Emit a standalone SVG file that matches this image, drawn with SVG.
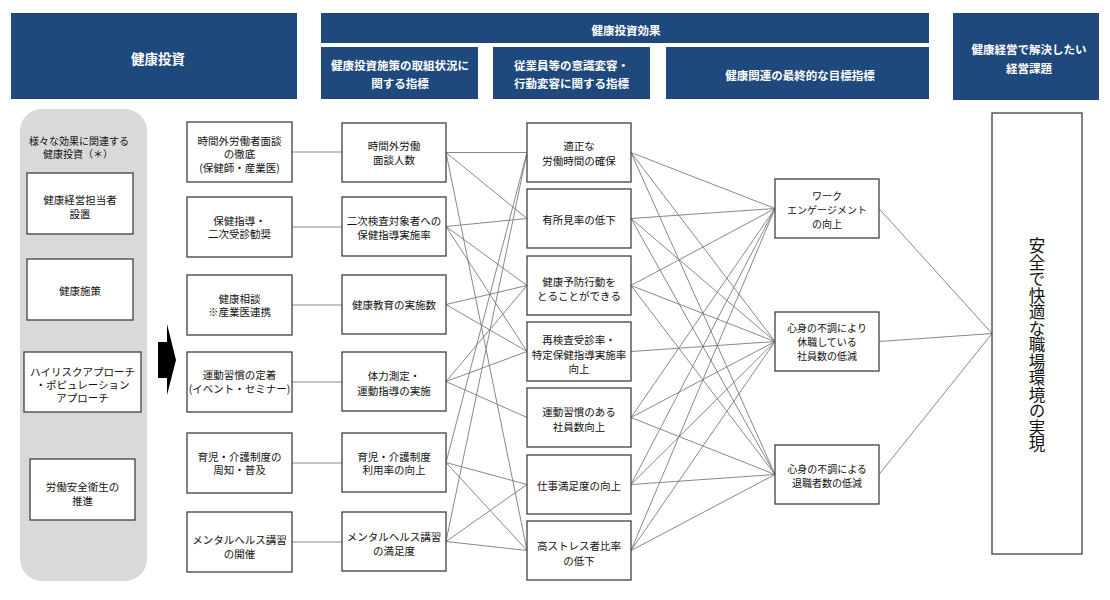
<svg xmlns="http://www.w3.org/2000/svg" width="1110" height="600" viewBox="0 0 1110 600">
<style>
.hdr{fill:#1f497d}
.ht{fill:#fff;font-family:"Noto Sans CJK JP",sans-serif;font-weight:bold;font-size:11.5px;text-anchor:middle;dominant-baseline:central}
.box{fill:#fff;stroke:#404040;stroke-width:1.3}
.t{font-family:"Noto Sans CJK JP",sans-serif;font-size:10.5px;fill:#111;text-anchor:middle;dominant-baseline:central}
.ln{stroke:#7a7a7a;stroke-width:0.9;fill:none}
</style>
<rect width="1110" height="600" fill="#fff"/>
<!-- headers -->
<g id="h_invest"><rect class="hdr" x="11" y="13" width="286" height="86"/><text class="ht" x="158" y="58" style="font-size:13.5px">健康投資</text></g>
<g id="h_effect"><rect class="hdr" x="321" y="13" width="608" height="30"/><text class="ht" x="626" y="30">健康投資効果</text></g>
<g id="h_sub1"><rect class="hdr" x="321" y="47" width="157" height="52"/><text class="ht" x="400" y="65">健康投資施策の取組状況に</text><text class="ht" x="400" y="83">関する指標</text></g>
<g id="h_sub2"><rect class="hdr" x="493" y="47" width="157" height="52"/><text class="ht" x="571.5" y="65">従業員等の意識変容・</text><text class="ht" x="571.5" y="83">行動変容に関する指標</text></g>
<g id="h_sub3"><rect class="hdr" x="666" y="47" width="263" height="52"/><text class="ht" x="800" y="75">健康関連の最終的な目標指標</text></g>
<g id="h_issue"><rect class="hdr" x="953" y="13" width="146" height="87"/><text class="ht" x="1029" y="49">健康経営で解決したい</text><text class="ht" x="1029" y="68">経営課題</text></g>

<!-- left panel -->
<g id="panel">
<rect x="20" y="109" width="127" height="472" rx="22" ry="22" fill="#d9d9d9"/>
<text class="t" x="79" y="140" style="font-size:10px">様々な効果に関連する</text>
<text class="t" x="78" y="153.5" style="font-size:10px">健康投資（＊）</text>
</g>
<g id="p1"><rect class="box" x="27" y="173" width="106" height="61"/><text class="t" x="80" y="199">健康経営担当者</text><text class="t" x="80" y="213">設置</text></g>
<g id="p2"><rect class="box" x="27" y="259" width="106" height="61"/><text class="t" x="80" y="290">健康施策</text></g>
<g id="p3"><rect class="box" x="24" y="352" width="117" height="60"/><text class="t" x="82.5" y="371.5">ハイリスクアプローチ</text><text class="t" x="82.5" y="384.5">・ポピュレーション</text><text class="t" x="82.5" y="397.5">アプローチ</text></g>
<g id="p4"><rect class="box" x="30" y="459" width="105" height="61"/><text class="t" x="82.5" y="486.5">労働安全衛生の</text><text class="t" x="82.5" y="500">推進</text></g>

<g id="arrow"><polygon points="158,342 167,342 167,324 176,360 167,395 167,378 158,378" fill="#000"/></g>

<!-- connectors -->
<g id="connectors" class="ln">
<line x1="292" y1="152" x2="342" y2="152"/>
<line x1="292" y1="227" x2="342" y2="227"/>
<line x1="292" y1="305" x2="342" y2="305"/>
<line x1="292" y1="382" x2="342" y2="382"/>
<line x1="292" y1="463" x2="342" y2="463"/>
<line x1="292" y1="542" x2="342" y2="542"/>

<line x1="446" y1="152.5" x2="527" y2="152.5"/>
<line x1="446" y1="152.5" x2="527" y2="218.5"/>
<line x1="446" y1="152.5" x2="527" y2="550.5"/>
<line x1="446" y1="226.5" x2="527" y2="218.5"/>
<line x1="446" y1="226.5" x2="527" y2="285.5"/>
<line x1="446" y1="226.5" x2="527" y2="351.5"/>
<line x1="446" y1="304.5" x2="527" y2="285.5"/>
<line x1="446" y1="304.5" x2="527" y2="351.5"/>
<line x1="446" y1="381.5" x2="527" y2="285.5"/>
<line x1="446" y1="381.5" x2="527" y2="351.5"/>
<line x1="446" y1="381.5" x2="527" y2="417.5"/>
<line x1="446" y1="462.5" x2="527" y2="152.5"/>
<line x1="446" y1="462.5" x2="527" y2="484.5"/>
<line x1="446" y1="462.5" x2="527" y2="550.5"/>
<line x1="446" y1="541.5" x2="527" y2="152.5"/>
<line x1="446" y1="541.5" x2="527" y2="484.5"/>
<line x1="446" y1="541.5" x2="527" y2="550.5"/>

<line x1="631" y1="152.5" x2="775" y2="208.5"/>
<line x1="631" y1="152.5" x2="775" y2="341.5"/>
<line x1="631" y1="152.5" x2="775" y2="474.5"/>
<line x1="631" y1="218.5" x2="775" y2="208.5"/>
<line x1="631" y1="218.5" x2="775" y2="341.5"/>
<line x1="631" y1="218.5" x2="775" y2="474.5"/>
<line x1="631" y1="285.5" x2="775" y2="208.5"/>
<line x1="631" y1="285.5" x2="775" y2="341.5"/>
<line x1="631" y1="285.5" x2="775" y2="474.5"/>
<line x1="631" y1="351.5" x2="775" y2="341.5"/>
<line x1="631" y1="417.5" x2="775" y2="208.5"/>
<line x1="631" y1="417.5" x2="775" y2="341.5"/>
<line x1="631" y1="417.5" x2="775" y2="474.5"/>
<line x1="631" y1="484.5" x2="775" y2="208.5"/>
<line x1="631" y1="484.5" x2="775" y2="341.5"/>
<line x1="631" y1="484.5" x2="775" y2="474.5"/>
<line x1="631" y1="550.5" x2="775" y2="208.5"/>
<line x1="631" y1="550.5" x2="775" y2="341.5"/>
<line x1="631" y1="550.5" x2="775" y2="474.5"/>

<line x1="879" y1="208.5" x2="992" y2="333.5"/>
<line x1="879" y1="341.5" x2="992" y2="333.5"/>
<line x1="879" y1="474.5" x2="992" y2="333.5"/>
</g>

<!-- column 2: measures -->
<g id="m1"><rect class="box" x="187" y="122" width="105" height="60"/><text class="t" x="239.5" y="140">時間外労働者面談</text><text class="t" x="239.5" y="153.5">の徹底</text><text class="t" x="239.5" y="167.5">(保健師・産業医)</text></g>
<g id="m2"><rect class="box" x="187" y="197" width="105" height="60"/><text class="t" x="239.5" y="220">保健指導・</text><text class="t" x="239.5" y="233.5">二次受診勧奨</text></g>
<g id="m3"><rect class="box" x="187" y="275" width="105" height="60"/><text class="t" x="239.5" y="298">健康相談</text><text class="t" x="239.5" y="311.5">※産業医連携</text></g>
<g id="m4"><rect class="box" x="187" y="352" width="105" height="60"/><text class="t" x="239.5" y="374.5">運動習慣の定着</text><text class="t" x="239.5" y="388.5">(イベント・セミナー)</text></g>
<g id="m5"><rect class="box" x="187" y="433" width="105" height="60"/><text class="t" x="239.5" y="456.5">育児・介護制度の</text><text class="t" x="239.5" y="469.5">周知・普及</text></g>
<g id="m6"><rect class="box" x="187" y="512" width="105" height="60"/><text class="t" x="239.5" y="539">メンタルヘルス講習</text><text class="t" x="239.5" y="553">の開催</text></g>

<!-- column 3: activity indicators -->
<g id="i1"><rect class="box" x="342" y="123" width="104" height="59"/><text class="t" x="394" y="145">時間外労働</text><text class="t" x="394" y="159.5">面談人数</text></g>
<g id="i2"><rect class="box" x="342" y="197" width="104" height="59"/><text class="t" x="394" y="220">二次検査対象者への</text><text class="t" x="394" y="234">保健指導実施率</text></g>
<g id="i3"><rect class="box" x="342" y="275" width="104" height="59"/><text class="t" x="394" y="304.5">健康教育の実施数</text></g>
<g id="i4"><rect class="box" x="342" y="352" width="104" height="59"/><text class="t" x="394" y="375">体力測定・</text><text class="t" x="394" y="390">運動指導の実施</text></g>
<g id="i5"><rect class="box" x="342" y="433" width="104" height="59"/><text class="t" x="394" y="456">育児・介護制度</text><text class="t" x="394" y="469.5">利用率の向上</text></g>
<g id="i6"><rect class="box" x="342" y="512" width="104" height="59"/><text class="t" x="394" y="536.5">メンタルヘルス講習</text><text class="t" x="394" y="550.5">の満足度</text></g>

<!-- column 4: behaviour indicators -->
<g id="b1"><rect class="box" x="527" y="123" width="104" height="59"/><text class="t" x="579" y="145">適正な</text><text class="t" x="579" y="160">労働時間の確保</text></g>
<g id="b2"><rect class="box" x="527" y="189" width="104" height="59"/><text class="t" x="579" y="219">有所見率の低下</text></g>
<g id="b3"><rect class="box" x="527" y="256" width="104" height="59"/><text class="t" x="579" y="281.5">健康予防行動を</text><text class="t" x="579" y="295">とることができる</text></g>
<g id="b4"><rect class="box" x="527" y="322" width="104" height="59"/><text class="t" x="579" y="339">再検査受診率・</text><text class="t" x="579" y="354">特定保健指導実施率</text><text class="t" x="579" y="368.5">向上</text></g>
<g id="b5"><rect class="box" x="527" y="388" width="104" height="59"/><text class="t" x="579" y="411.5">運動習慣のある</text><text class="t" x="579" y="426.5">社員数向上</text></g>
<g id="b6"><rect class="box" x="527" y="455" width="104" height="59"/><text class="t" x="579" y="485">仕事満足度の向上</text></g>
<g id="b7"><rect class="box" x="527" y="521" width="104" height="59"/><text class="t" x="579" y="545">高ストレス者比率</text><text class="t" x="579" y="560">の低下</text></g>

<!-- column 5: final indicators -->
<g id="f1"><rect class="box" x="775" y="179" width="104" height="59"/><text class="t" x="827" y="195" style="font-size:10px">ワーク</text><text class="t" x="827" y="209" style="font-size:10px">エンゲージメント</text><text class="t" x="827" y="223" style="font-size:10px">の向上</text></g>
<g id="f2"><rect class="box" x="775" y="312" width="104" height="59"/><text class="t" x="827" y="327.5" style="font-size:10px">心身の不調により</text><text class="t" x="827" y="341.5" style="font-size:10px">休職している</text><text class="t" x="827" y="355.5" style="font-size:10px">社員数の低減</text></g>
<g id="f3"><rect class="box" x="775" y="445" width="104" height="59"/><text class="t" x="827" y="468.5" style="font-size:10px">心身の不調による</text><text class="t" x="827" y="482.5" style="font-size:10px">退職者数の低減</text></g>

<!-- goal -->
<g id="goal"><rect class="box" x="992" y="113" width="90" height="441"/><text class="t" x="1037" y="345" style="font-size:16.5px;writing-mode:vertical-rl;dominant-baseline:central">安全で快適な職場環境の実現</text></g>
</svg>
